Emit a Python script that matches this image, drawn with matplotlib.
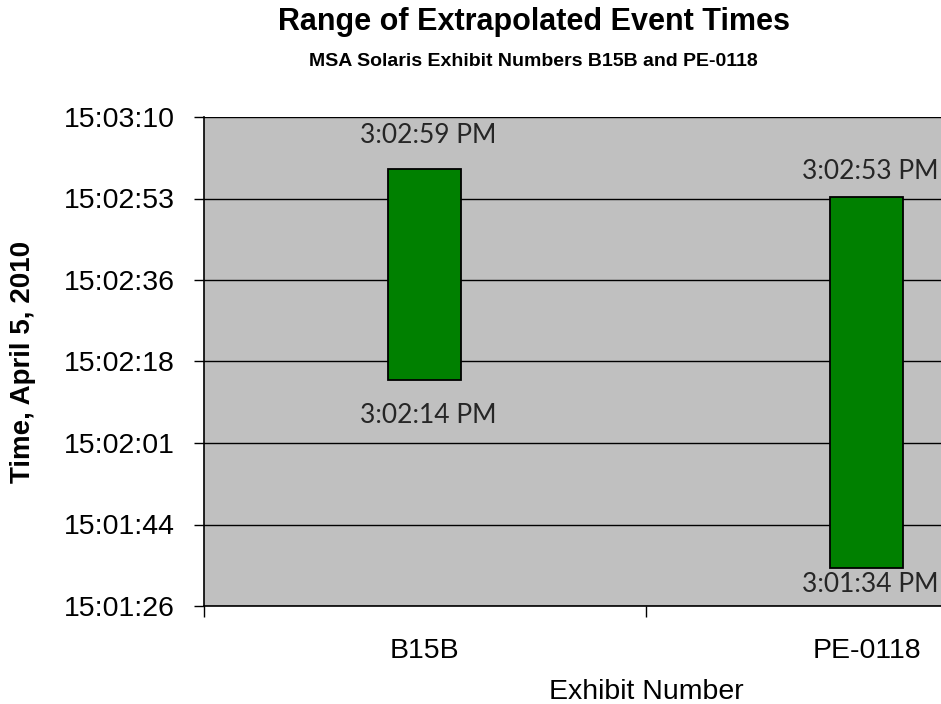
import matplotlib
matplotlib.use("Agg")
import matplotlib.pyplot as plt
import numpy as np

# Exhibit ranges of extrapolated event times (15:00:00 reference, April 5, 2010)
exhibits = ["B15B", "PE-0118"]
range_start = ["15:02:14", "15:01:34"]
range_end = ["15:02:59", "15:02:53"]
start_labels = ["3:02:14 PM", "3:01:34 PM"]
end_labels = ["3:02:59 PM", "3:02:53 PM"]

axis_min = "15:01:26"
axis_max = "15:03:10"
ytick_labels = ["15:01:26", "15:01:44", "15:02:01", "15:02:18",
                "15:02:36", "15:02:53", "15:03:10"]


def secs(t):
    h, m, s = (int(v) for v in t.split(":"))
    return (h - 15) * 3600 + m * 60 + s


starts = np.array([secs(t) for t in range_start])
ends = np.array([secs(t) for t in range_end])
ymin, ymax = secs(axis_min), secs(axis_max)

plt.rcParams["font.family"] = ["Liberation Sans", "DejaVu Sans"]

W, H = 941, 704
fig = plt.figure(figsize=(W / 100, H / 100), dpi=100)
ax = fig.add_axes([203.5 / W, 1 - 606 / H, 884 / W, (606 - 117) / H])
ax.set_facecolor("#C0C0C0")

x = np.arange(len(exhibits))
ax.bar(x, ends - starts, bottom=starts, width=0.165, color="#008000",
       edgecolor="black", linewidth=1.3, zorder=3)

ax.set_xlim(-0.5, len(exhibits) - 0.5)
ax.set_ylim(ymin, ymax)

yticks = np.linspace(ymin, ymax, len(ytick_labels))
ax.set_yticks(yticks)
ax.set_yticklabels(ytick_labels, fontsize=20.5)
ax.tick_params(axis="y", length=7.5, width=1, pad=13, direction="out")
ax.yaxis.grid(True, color="black", linewidth=1)
ax.set_axisbelow(True)

ax.set_xticks(np.arange(-0.5, len(exhibits), 1.0))
ax.set_xticklabels([])
ax.tick_params(axis="x", which="major", length=8, width=1, direction="out")
ax.set_xticks(x, minor=True)
ax.set_xticklabels(exhibits, minor=True, fontsize=20.5)
ax.tick_params(axis="x", which="minor", length=0, pad=23)

for side in ("top", "right"):
    ax.spines[side].set_visible(False)
for side in ("left", "bottom"):
    ax.spines[side].set_linewidth(1.2)
    ax.spines[side].set_color("black")

# Value labels above and below each bar
label_font = dict(fontsize=19, family=["Lato", "DejaVu Sans"], color="#262626")
top_off = [33, 25]
bot_off = [35, 16]
for i in range(len(exhibits)):
    ax.annotate(end_labels[i], (x[i], ends[i]), xytext=(4, top_off[i]),
                textcoords="offset pixels", ha="center", va="center",
                annotation_clip=False, zorder=4, **label_font)
    ax.annotate(start_labels[i], (x[i], starts[i]), xytext=(4, -bot_off[i]),
                textcoords="offset pixels", ha="center", va="center",
                annotation_clip=False, zorder=4, **label_font)

fig.text(534 / W, 1 - 22 / H, "Range of Extrapolated Event Times",
         ha="center", va="center", fontsize=22, fontweight="bold")
fig.text(533 / W, 1 - 61.5 / H, "MSA Solaris Exhibit Numbers B15B and PE-0118",
         ha="center", va="center", fontsize=14, fontweight="bold")
fig.text(23 / W, 1 - 362 / H, "Time, April 5, 2010", rotation=90,
         ha="center", va="center", fontsize=20, fontweight="bold")
fig.text(646 / W, 1 - 692 / H, "Exhibit Number", ha="center", va="center",
         fontsize=20.5)

fig.savefig("out.png", dpi=100)
